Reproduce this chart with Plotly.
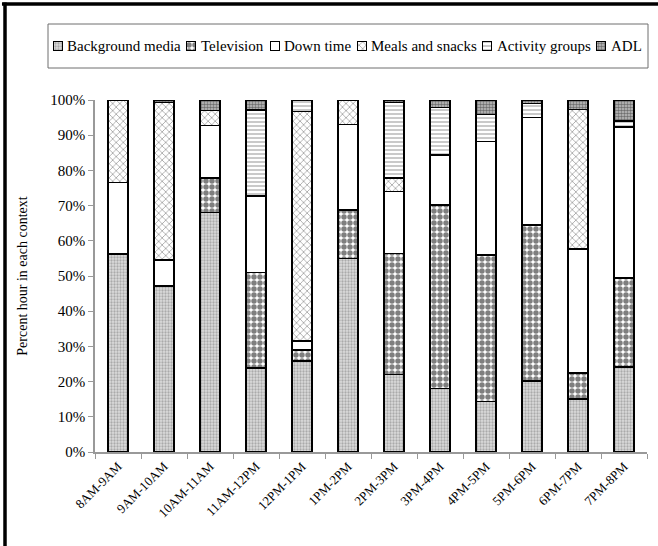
import plotly.graph_objects as go

# Hour blocks and share of each hour (%) spent in each context
hours = ["8AM-9AM", "9AM-10AM", "10AM-11AM", "11AM-12PM", "12PM-1PM", "1PM-2PM",
         "2PM-3PM", "3PM-4PM", "4PM-5PM", "5PM-6PM", "6PM-7PM", "7PM-8PM"]
background_media = [56.2, 47.2, 68.1, 23.8, 25.9, 55.0, 22.0, 18.1, 14.3, 20.2, 15.1, 24.1]
television = [0, 0, 9.7, 27.2, 3.1, 13.75, 34.4, 52.1, 41.7, 44.3, 7.3, 25.4]
down_time = [20.3, 7.3, 14.9, 21.7, 2.5, 24.35, 17.6, 14.2, 32.2, 30.6, 35.3, 42.9]
meals_snacks = [23.5, 44.8, 4.3, 0, 65.2, 6.9, 3.8, 0, 0, 0, 39.6, 0]
activity_groups = [0, 0, 0, 24.5, 3.3, 0, 21.5, 13.5, 7.7, 3.9, 0, 1.7]
adl = [0, 0.7, 3.0, 2.8, 0, 0, 0.7, 2.1, 4.1, 1.0, 2.7, 5.9]
context_names = ["Background media", "Television", "Down time",
                 "Meals and snacks", "Activity groups", "ADL"]
y_ticks = list(range(0, 101, 10))
y_tick_labels = [f"{v}%" for v in y_ticks]

FONT = "Liberation Serif"
W, H = 658, 546

# Fill pattern for each context (blank shape = plain white)
patterns = [
    dict(shape=".", fgcolor="#777777", bgcolor="#dcdcdc", size=3, solidity=0.45),
    dict(shape=".", fgcolor="#000000", bgcolor="#ffffff", size=6, solidity=0.65),
    dict(shape="", fgcolor="#000000", bgcolor="#ffffff", size=4, solidity=0.3),
    dict(shape="x", fgcolor="#4a4a4a", bgcolor="#ffffff", size=5, solidity=0.3),
    dict(shape="-", fgcolor="#666666", bgcolor="#ffffff", size=4, solidity=0.35),
    dict(shape=".", fgcolor="#1a1a1a", bgcolor="#c4c4c4", size=3, solidity=0.55),
]
series = [background_media, television, down_time, meals_snacks, activity_groups, adl]

fig = go.Figure()
for name, values, pattern in zip(context_names, series, patterns):
    fig.add_trace(go.Bar(
        name=name, x=hours, y=values, showlegend=False,
        marker=dict(color="#ffffff", line=dict(color="#000000", width=1.5), pattern=pattern),
    ))

# ---- Legend row: one swatch bar per context on its own pixel-scaled axis ----
LEG_FONT = 15
# Times-style advance widths (1/1000 em) for the characters used in the legend labels
char_w = {"A": 722, "B": 667, "D": 722, "L": 611, "M": 889, "T": 611, " ": 250,
          "a": 444, "c": 444, "d": 500, "e": 444, "g": 500, "i": 278, "k": 500,
          "l": 278, "m": 778, "n": 500, "o": 500, "p": 500, "r": 333, "s": 389,
          "t": 278, "u": 500, "v": 500, "w": 722, "y": 500}
text_w = [sum(char_w[c] for c in s) / 1000 * LEG_FONT for s in context_names]

box_left, box_right, box_top, box_bottom = 48, 648, 24, 68   # legend box, page pixels
swatch, swatch_gap, item_gap, pad = 9, 3, 8, 5
swatch_x, label_x = [], []
cursor = pad
for w in text_w:
    swatch_x.append(cursor + swatch / 2)
    label_x.append(cursor + swatch + swatch_gap)
    cursor += swatch + swatch_gap + w + item_gap
box_h = box_bottom - box_top

fig.add_trace(go.Bar(
    x=swatch_x, y=[swatch] * len(context_names), base=box_h / 2 - swatch / 2,
    width=swatch, xaxis="x2", yaxis="y2", showlegend=False, hoverinfo="skip",
    marker=dict(
        color="#ffffff", line=dict(color="#000000", width=1),
        pattern=dict(
            shape=[p["shape"] for p in patterns],
            fgcolor=[p["fgcolor"] for p in patterns],
            bgcolor=[p["bgcolor"] for p in patterns],
            size=[p["size"] for p in patterns],
            solidity=[p["solidity"] for p in patterns],
        ),
    ),
))
for name, lx in zip(context_names, label_x):
    fig.add_annotation(text=name, x=lx, y=box_h / 2, xref="x2", yref="y2",
                       xanchor="left", yanchor="middle", showarrow=False,
                       font=dict(family=FONT, size=LEG_FONT, color="#000000"))
fig.add_shape(type="rect", xref="x2 domain", yref="y2 domain", x0=0, x1=1, y0=0, y1=1,
              line=dict(color="#6e6e6e", width=1))

# Plot area placement in page pixels
plot_left, plot_right, plot_top, plot_bottom = 95, 647, 100, 452

fig.update_layout(
    width=W, height=H,
    barmode="stack", bargap=0.57,
    plot_bgcolor="#ffffff", paper_bgcolor="#ffffff",
    margin=dict(l=0, r=0, t=0, b=0),
    font=dict(family=FONT, size=14, color="#000000"),
    showlegend=False,
    xaxis=dict(
        domain=[plot_left / W, plot_right / W],
        type="category", tickangle=-45, tickfont=dict(size=13),
        showline=True, linecolor="#999999", linewidth=1.5,
        ticks="outside", tickson="boundaries", ticklen=5, tickcolor="#999999",
        showgrid=False, automargin=False,
    ),
    yaxis=dict(
        domain=[(H - plot_bottom) / H, (H - plot_top) / H],
        range=[0, 100], tickvals=y_ticks, ticktext=y_tick_labels, tickfont=dict(size=15),
        showline=True, linecolor="#999999", linewidth=1.5,
        ticks="outside", ticklen=5, tickcolor="#999999", showgrid=False, zeroline=False,
        automargin=False,
        title=dict(text="Percent hour in each context", font=dict(size=14), standoff=19),
    ),
    xaxis2=dict(domain=[box_left / W, box_right / W], range=[0, box_right - box_left],
                visible=False, fixedrange=True, anchor="y2"),
    yaxis2=dict(domain=[(H - box_bottom) / H, (H - box_top) / H], range=[0, box_h],
                visible=False, fixedrange=True, anchor="x2"),
)

# Page frame: heavy rules along the top and left edges
fig.add_shape(type="line", xref="paper", yref="paper", x0=0.003, x1=1.0, y0=1 - 4 / H, y1=1 - 4 / H,
              line=dict(color="#000000", width=3.5))
fig.add_shape(type="line", xref="paper", yref="paper", x0=5 / W, x1=5 / W, y0=0, y1=1 - 2.5 / H,
              line=dict(color="#000000", width=3.5))

fig.write_html("out.html")
